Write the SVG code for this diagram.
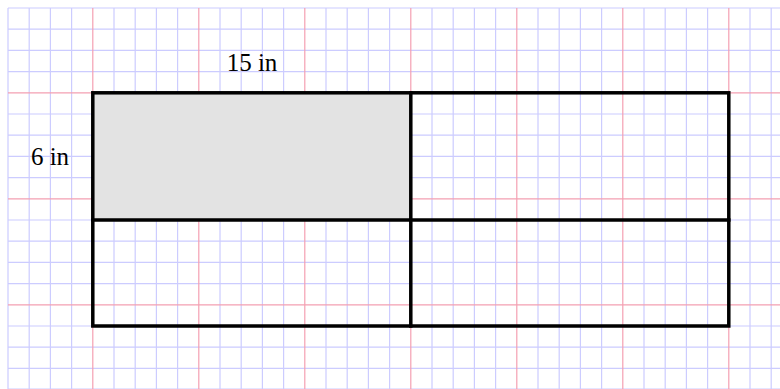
<svg xmlns="http://www.w3.org/2000/svg" width="780" height="389" viewBox="0 0 780 389">
<style>
.minor{stroke:#ccccff;stroke-width:1.2;fill:none}
.major{stroke:#f4a0b2;stroke-width:1.2;fill:none}
.edge{stroke:#000;stroke-width:3.5;fill:none;stroke-linecap:square}
.lbl{font-family:"Liberation Serif","Times New Roman",serif;font-size:25px;fill:#000;text-anchor:middle}
</style>
<rect width="780" height="389" fill="#fff"/>
<g id="grid">
<path class="minor" d="M8 8V389M29.2 8V389M50.4 8V389M71.6 8V389M114 8V389M135.2 8V389M156.4 8V389M177.6 8V389M220 8V389M241.2 8V389M262.4 8V389M283.6 8V389M326 8V389M347.2 8V389M368.4 8V389M389.6 8V389M432 8V389M453.2 8V389M474.4 8V389M495.6 8V389M538 8V389M559.2 8V389M580.4 8V389M601.6 8V389M644 8V389M665.2 8V389M686.4 8V389M707.6 8V389M750 8V389M771.2 8V389M8 8H780M8 29.2H780M8 50.4H780M8 71.6H780M8 114H780M8 135.2H780M8 156.4H780M8 177.6H780M8 220H780M8 241.2H780M8 262.4H780M8 283.6H780M8 326H780M8 347.2H780M8 368.4H780M8 389.1H780"/>
<path class="major" d="M92.8 8V389M198.8 8V389M304.8 8V389M410.8 8V389M516.8 8V389M622.8 8V389M728.8 8V389M8 92.8H780M8 198.8H780M8 304.8H780"/>
</g>
<g id="shaded-cell">
<rect x="92.8" y="92.8" width="318" height="127.2" fill="#e3e3e3"/>
</g>
<g id="rectangle">
<rect class="edge" x="92.8" y="92.8" width="636" height="233.2"/>
<path class="edge" d="M410.8 92.8V326M92.8 220H728.8"/>
</g>
<g id="labels">
<text class="lbl" x="252" y="71">15 in</text>
<text class="lbl" x="50" y="165">6 in</text>
</g>
</svg>
